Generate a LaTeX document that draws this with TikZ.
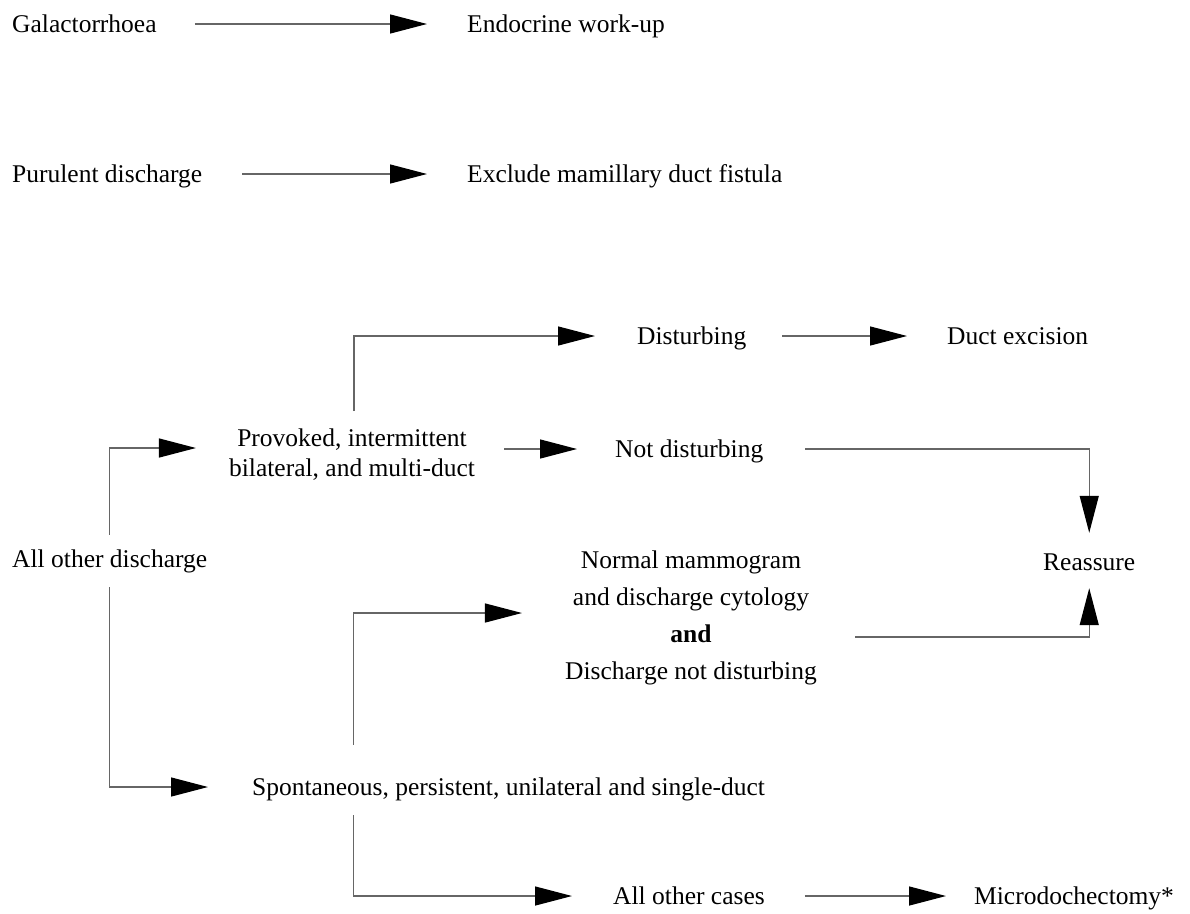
\documentclass[tikz,border=0pt]{standalone}
\usepackage{fontspec}
\setmainfont{Liberation Serif}
\usetikzlibrary{arrows.meta}
\begin{document}
\begin{tikzpicture}[x=1pt,y=-1pt,
  lbl/.style={inner sep=0pt, text height=18pt, text depth=2pt, anchor=west, font=\fontsize{25.5pt}{30pt}\selectfont},
  multi/.style={inner sep=0pt, align=center, anchor=center},
  conn/.style={draw=black!60, line width=1.3pt, -{Triangle[length=37pt,width=19pt,color=black]}}]
\useasboundingbox[fill=white] (0,0) rectangle (1190,913);

% nodes
\node[lbl] (galac) at (12,24) {Galactorrhoea};
\node[lbl] (endo) at (467,24) {Endocrine work-up};
\node[lbl] (pur) at (12,174) {Purulent discharge};
\node[lbl] (excl) at (467,174) {Exclude mamillary duct fistula};
\node[lbl] (dist) at (637,336) {Disturbing};
\node[lbl] (duct) at (947,336) {Duct excision};
\node[multi, font=\fontsize{25.5pt}{30pt}\selectfont] (prov) at (352,455) {Provoked, intermittent\\bilateral, and multi-duct};
\node[lbl] (notd) at (615,449) {Not disturbing};
\node[lbl] (allo) at (12,559) {All other discharge};
\node[lbl] (reas) at (1043,562) {Reassure};
\node[multi, font=\fontsize{25.5pt}{37pt}\selectfont] (norm) at (691,618) {Normal mammogram\\and discharge cytology\\\textbf{and}\\Discharge not disturbing};
\node[lbl] (spon) at (252,787) {Spontaneous, persistent, unilateral and single-duct};
\node[lbl] (aoc) at (613,896) {All other cases};
\node[lbl] (micro) at (974,896) {Microdochectomy*};

% connectors
\draw[conn] ([xshift=38pt]galac.east) -- ([xshift=-40pt]endo.west);
\draw[conn] ([xshift=40pt]pur.east) -- ([xshift=-40pt]excl.west);
\draw[conn] ([xshift=2pt,yshift=18pt]prov.north) |- ([xshift=-42pt]dist.west);
\draw[conn] ([xshift=36pt]dist.east) -- ([xshift=-40pt]duct.west);
\draw[conn] ([yshift=14pt]allo.north) |- ([xshift=-33pt,yshift=7pt]prov.west);
\draw[conn] ([xshift=29pt,yshift=6pt]prov.east) -- ([xshift=-38pt]notd.west);
\draw[conn] ([xshift=42pt]notd.east) -| ([yshift=19pt]reas.north);
\draw[conn] ([yshift=-18pt]allo.south) |- ([xshift=-44pt]spon.west);
\draw[conn] ([xshift=-155pt,yshift=32pt]spon.north) |- ([xshift=-43pt,yshift=5pt]norm.west);
\draw[conn] ([xshift=38pt,yshift=-19pt]norm.east) -| ([yshift=-16pt]reas.south);
\draw[conn] ([xshift=-155pt,yshift=-18pt]spon.south) |- ([xshift=-41pt]aoc.west);
\draw[conn] ([xshift=40pt]aoc.east) -- ([xshift=-28pt]micro.west);
\end{tikzpicture}
\end{document}
